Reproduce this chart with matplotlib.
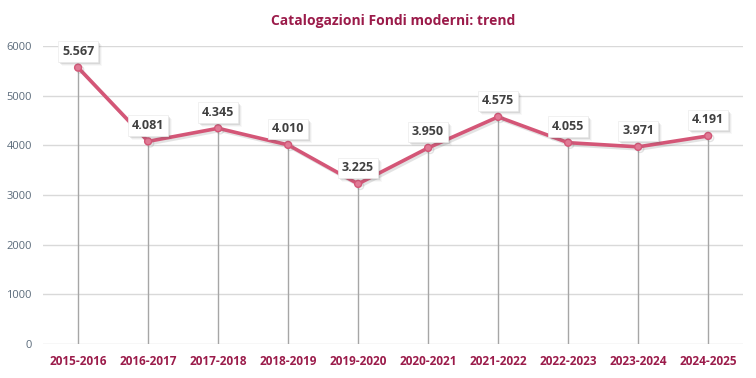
import matplotlib.pyplot as plt
import matplotlib.patheffects as pe
from matplotlib.patches import Rectangle
from matplotlib.transforms import IdentityTransform

# dati
anni = ["2015-2016", "2016-2017", "2017-2018", "2018-2019", "2019-2020",
        "2020-2021", "2021-2022", "2022-2023", "2023-2024", "2024-2025"]
catalogazioni = [5567, 4081, 4345, 4010, 3225, 3950, 4575, 4055, 3971, 4191]
etichette = ["5.567", "4.081", "4.345", "4.010", "3.225",
             "3.950", "4.575", "4.055", "3.971", "4.191"]
yticks = [0, 1000, 2000, 3000, 4000, 5000, 6000]

ROSSO = "#9B1B4A"
LINEA = "#D45677"

plt.rcParams["font.family"] = ["Open Sans", "DejaVu Sans"]

fig = plt.figure(figsize=(7.56, 3.78), dpi=100)
ax = fig.add_axes([0.057, 0.09, 0.926, 0.788])

x = list(range(len(anni)))
ax.set_xlim(-0.5, len(anni) - 0.5)
ax.set_ylim(0, 6000)

# griglia orizzontale
for t in yticks:
    ax.axhline(t, color="#d9d9d9", lw=1, zorder=0)

# linee di proiezione verso l'asse
ax.vlines(x, 0, catalogazioni, color="#a6a6a6", lw=1, zorder=1)

ombra = [pe.SimpleLineShadow(offset=(1.5, -1.5), shadow_color="#777777", alpha=0.2), pe.Normal()]
ax.plot(x, catalogazioni, color=LINEA, lw=2.6, marker="o", ms=5,
        markerfacecolor="#E07A95", markeredgecolor=LINEA, zorder=3,
        path_effects=ombra)

testi = []
for xi, yi, lab in zip(x, catalogazioni, etichette):
    t = ax.annotate(lab, (xi, yi), xytext=(0, 11.5), textcoords="offset points",
                    ha="center", va="center", fontsize=9, fontweight="bold", color="#404040",
                    bbox=dict(boxstyle="square,pad=0.3", fc="white", ec="#ececec", lw=0.5),
                    zorder=5)
    testi.append(t)

ax.set_xticks(x)
ax.set_xticklabels(anni, fontsize=8.5, fontweight="bold", color=ROSSO)
ax.set_yticks(yticks)
ax.set_yticklabels([str(t) for t in yticks], fontsize=8, color="#5b6b7b")
ax.tick_params(length=0, pad=8)
for s in ax.spines.values():
    s.set_visible(False)

fig.text(0.52, 0.945, "Catalogazioni Fondi moderni: trend", ha="center", va="center",
         fontsize=10, fontweight="bold", color=ROSSO)

# ombra morbida dei riquadri delle etichette (sotto le etichette, sopra la linea)
fig.canvas.draw()
for t in testi:
    bb = t.get_bbox_patch().get_window_extent()
    for d, a in [(1, 0.20), (2, 0.14), (3, 0.08), (4, 0.04)]:
        r = Rectangle((bb.x0 + d, bb.y0 - d), bb.width, bb.height,
                      fc="#606060", ec="none", alpha=a, zorder=4, clip_on=False)
        r.set_transform(IdentityTransform())
        ax.add_artist(r)

fig.savefig("out.png", dpi=100)
